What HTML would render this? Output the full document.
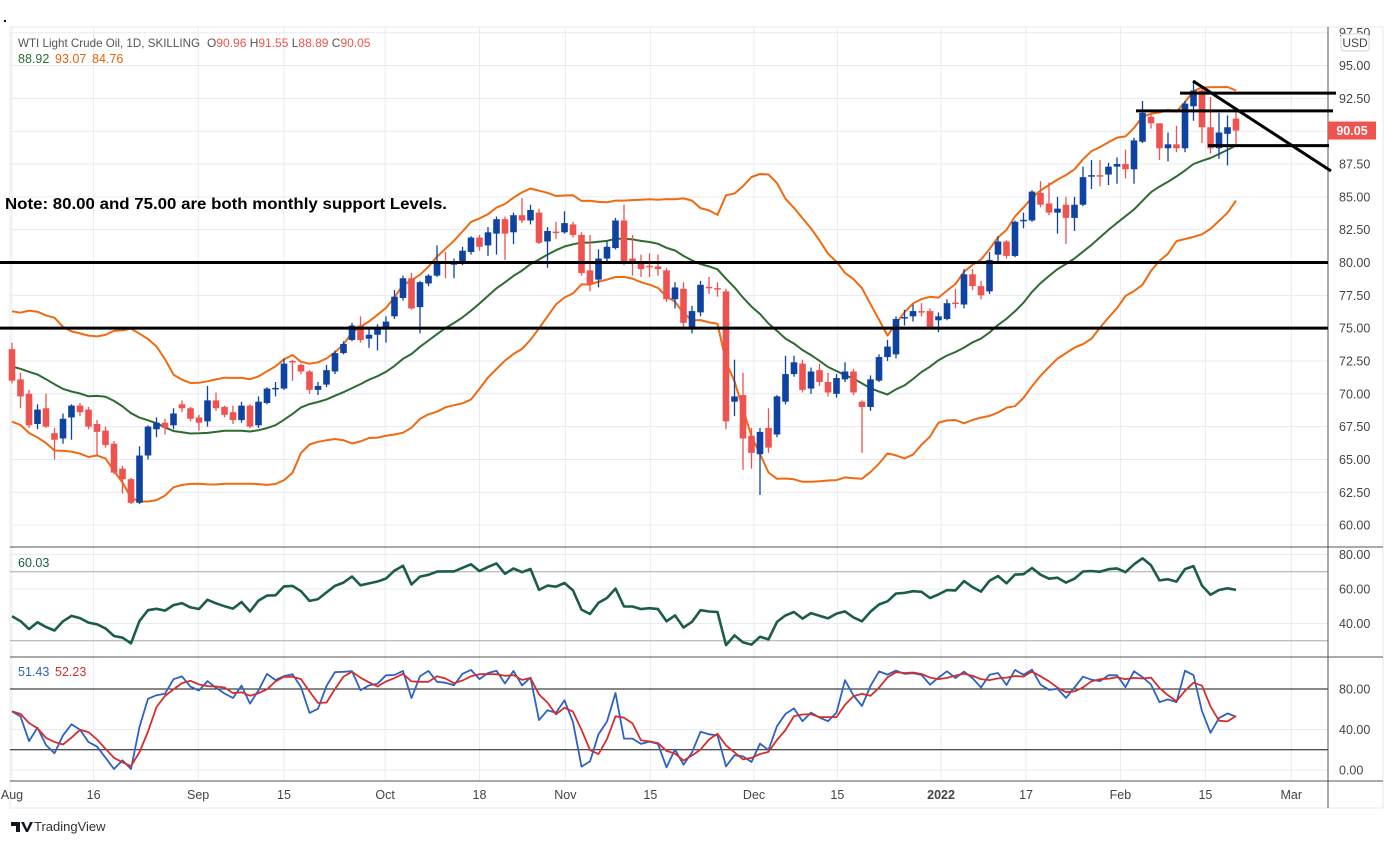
<!DOCTYPE html>
<html><head><meta charset="utf-8"><title>WTI Chart</title>
<style>
html,body{margin:0;padding:0;background:#fff;}
svg{display:block;font-family:"Liberation Sans",Arial,sans-serif;}
</style></head>
<body>
<svg id="chart" width="1393" height="844" viewBox="0 0 1393 844" xmlns="http://www.w3.org/2000/svg">
<rect x="0" y="0" width="1393" height="844" fill="#fff"/>
<text x="3" y="22" font-size="14" font-weight="bold" fill="#000">.</text>
<rect x="10" y="27" width="1373" height="781" fill="none" stroke="#e6e9ef" stroke-width="1"/>
<g id="grid"></g>
<g id="panes"></g>
<g id="bands"></g>
<g id="candles"></g>
<g id="annot"></g>
<g id="ind"></g>
<g id="axes"></g>
<g id="legend">
  <text x="18" y="47" font-size="12" fill="#555" textLength="182" lengthAdjust="spacingAndGlyphs">WTI Light Crude Oil, 1D, SKILLING</text>
  <text x="207" y="47" font-size="12" fill="#555">O<tspan fill="#ef5350">90.96</tspan>  H<tspan fill="#ef5350">91.55</tspan>  L<tspan fill="#ef5350">88.89</tspan>  C<tspan fill="#ef5350">90.05</tspan></text>
  <text x="18" y="63" font-size="12.5" fill="#2e6b30">88.92</text>
  <text x="55" y="63" font-size="12.5" fill="#e8620c">93.07</text>
  <text x="92" y="63" font-size="12.5" fill="#e8620c">84.76</text>
  <text x="18" y="567" font-size="12.5" fill="#1b5e45">60.03</text>
  <text x="18" y="676" font-size="12.5" fill="#2d62c2">51.43</text>
  <text x="55" y="676" font-size="12.5" fill="#d32f2f">52.23</text>
  <text x="5" y="209" font-size="16" font-weight="bold" fill="#000" textLength="442" lengthAdjust="spacingAndGlyphs">Note: 80.00 and 75.00 are both monthly support Levels.</text>
</g>
<g>
  <path d="M11 822 h9 v10 h-4 v-6 h-5 z M21 822 h3 l3 7 3-7 h3 l-5 10 h-2 z" fill="#131722"/>
  <text x="34" y="831" font-size="13" fill="#333">TradingView</text>
</g>
</svg>
<script>
// ---- Data ----
const julyClose=[73.37,72.20,72.94,74.56,74.10,75.25,73.13,71.65,71.81,66.42,67.42,70.30,71.91,72.07,71.91,71.65,72.39,73.62,73.95];
const julyHigh=[76.98,73.90,73.25,74.85,74.85,75.52,75.35,73.03,72.27,71.36,67.93,70.69,72.38,72.30,72.20,72.35,72.79,73.80,74.08];
const julyLow=[73.00,71.50,71.30,73.20,73.70,73.70,72.88,71.10,71.30,65.01,65.34,66.78,70.40,71.40,71.00,71.00,71.40,72.00,73.00];
const opens=[73.4,71.1,70.0,67.7,68.9,67.0,66.6,68.2,69.1,68.8,67.7,67.2,66.2,64.3,63.5,61.7,65.3,67.3,67.8,67.6,69.2,68.9,68.2,67.9,69.5,69.0,68.6,68.0,69.1,67.6,69.3,70.35,70.4,72.5,72.2,71.7,70.3,70.7,71.7,73.1,74.1,75.2,74.2,74.5,75.0,75.9,77.3,78.8,76.6,78.4,79.0,80.05,79.85,80.0,80.8,81.9,81.3,82.2,83.3,82.3,83.6,83.2,83.8,81.6,82.35,82.3,82.9,82.1,79.4,78.7,80.3,81.1,83.2,80.3,80.0,79.75,79.7,79.4,77.2,78.0,75.0,76.2,78.15,78.05,77.8,69.4,69.9,66.8,65.4,67.4,66.9,69.4,71.5,72.3,70.4,71.8,70.9,70.0,71.1,71.7,69.4,69.0,71.0,72.8,73.0,75.75,75.9,76.3,76.3,75.6,75.7,76.95,76.8,79.1,78.2,77.8,80.6,81.6,80.5,83.15,83.2,85.3,84.5,83.8,84.4,83.4,84.4,86.55,86.65,86.7,87.3,87.5,87.1,89.2,91.1,90.6,88.7,89.0,88.7,91.9,93.1,90.3,88.7,89.8,90.96];
const closes=[71.0,69.8,67.6,68.8,67.5,66.5,68.1,69.1,68.6,67.5,67.1,66.1,64.0,63.5,61.7,65.3,67.5,67.8,67.4,68.5,68.9,68.1,67.8,69.5,68.9,68.4,68.0,69.1,67.5,69.4,70.4,70.45,72.3,72.4,71.7,70.3,70.6,71.8,73.1,73.8,75.2,74.1,74.5,74.9,75.5,77.4,78.8,76.5,78.5,79.0,79.9,79.95,79.95,80.9,81.9,81.2,82.3,83.3,82.2,83.6,83.2,84.0,81.5,82.4,82.25,83.0,82.1,79.2,78.4,80.3,81.2,83.2,80.0,80.0,79.5,79.65,79.5,77.2,78.1,75.4,76.3,78.3,78.05,77.95,67.9,69.8,66.6,65.5,67.1,65.9,69.8,71.5,72.4,70.3,71.7,70.9,70.1,71.2,71.7,70.1,69.0,71.1,72.8,73.6,75.7,75.85,76.3,76.2,75.1,75.9,76.9,76.85,79.1,78.2,77.5,80.2,81.6,80.5,83.1,83.25,85.4,84.4,83.8,84.1,83.4,84.4,86.5,86.65,86.55,87.3,87.5,87.1,89.3,91.4,90.6,88.7,89.0,88.7,92.1,93.1,90.3,88.7,89.9,90.3,90.05];
const highs=[73.9,71.6,70.3,69.2,70.0,67.4,68.5,69.2,69.3,69.0,68.0,67.5,66.4,64.5,63.6,66.0,67.6,68.2,68.1,68.9,69.5,69.0,68.4,70.6,70.1,69.1,69.1,69.4,69.2,69.8,70.5,70.9,72.7,72.6,72.3,71.8,70.9,72.2,73.3,74.0,75.4,75.9,75.0,75.3,75.9,77.9,79.0,79.2,78.6,79.1,81.3,80.8,80.3,81.2,82.0,82.1,82.7,83.5,83.5,83.8,84.9,84.4,84.1,82.7,83.1,83.9,83.1,82.3,82.1,81.0,81.6,83.4,84.4,82.1,80.6,80.7,80.6,79.6,78.5,78.5,76.7,78.6,78.9,78.5,78.0,72.6,71.6,67.4,67.4,68.9,69.9,72.9,72.9,72.6,72.0,72.3,71.6,71.5,72.4,71.9,69.5,71.4,73.0,74.1,75.9,76.4,76.8,76.9,76.5,76.2,77.2,78.0,79.5,79.5,78.6,80.8,82.0,81.7,83.2,83.8,85.5,86.2,86.1,85.0,85.0,85.0,87.3,87.8,87.8,87.6,88.0,88.6,89.5,92.3,91.3,90.6,89.9,90.4,92.3,93.7,93.3,92.6,91.4,91.2,91.55];
const lows=[70.8,68.9,67.4,67.3,67.4,65.0,66.2,66.5,68.3,67.3,65.3,65.9,63.9,62.4,61.6,61.6,65.0,66.7,66.9,67.3,68.6,67.9,67.2,67.5,68.7,68.2,67.7,67.8,67.4,67.4,69.2,69.8,70.3,71.0,71.5,70.0,69.9,70.5,71.5,73.0,74.0,73.9,73.5,73.3,73.9,75.7,77.1,76.4,74.6,78.2,78.9,78.8,78.8,79.8,80.6,80.9,80.5,80.6,80.2,81.4,83.0,82.9,81.4,79.6,81.8,82.2,81.9,79.0,77.8,78.1,80.1,81.0,79.8,79.0,78.9,78.9,79.0,77.0,76.5,74.9,74.6,75.9,77.6,77.4,67.3,68.3,64.2,64.3,62.3,65.5,66.7,69.2,71.3,70.1,70.0,70.6,69.8,69.7,70.9,69.9,65.5,68.7,70.9,72.5,72.7,75.2,75.5,75.9,74.9,74.7,75.6,76.5,76.5,77.9,77.2,77.6,80.0,80.3,80.4,82.6,83.1,84.2,83.6,82.2,81.4,82.4,84.3,85.6,85.8,85.9,86.0,86.4,86.0,89.1,90.2,87.8,87.7,88.4,88.4,90.8,89.1,88.3,87.9,87.4,88.89];
const priceTicks=[97.5,95,92.5,90,87.5,85,82.5,80,77.5,75,72.5,70,67.5,65,62.5,60];
const timeLabels=['Aug','16','Sep','15','Oct','18','Nov','15','Dec','15','2022','17','Feb','15','Mar'];
const timeLabelBars=[0,9.6,21.9,32.0,43.9,55.0,65.1,75.1,87.3,97.1,109.3,119.3,130.4,140.4,150.5];
const rsiTicks=[80,60,40];
const stochTicks=[80,40,0];
const supportLevels=[80,75];

// ---- Scales ----
const NS='http://www.w3.org/2000/svg';
const xBar=i=>12+8.5*i;
const yP=p=>262.5-(p-80)*13.13;
const yR=v=>589-(v-60)*1.725;
const yS=v=>770-v*1.013;
function mk(tag,attrs,parent){const e=document.createElementNS(NS,tag);for(const k in attrs)e.setAttribute(k,attrs[k]);parent.appendChild(e);return e;}
const $=id=>document.getElementById(id);
const X0=10,X1=1328;

// ---- Grid ----
const grid=$('grid');
timeLabelBars.forEach((b,i)=>{
  const l=mk('line',{x1:xBar(b),x2:xBar(b),y1:27,y2:781,stroke:'#e6ecf3','stroke-width':1},grid);
  
  
});
priceTicks.forEach(p=>{
  const l=mk('line',{x1:X0,x2:X1,y1:yP(p),y2:yP(p),stroke:'#e6ecf3','stroke-width':1},grid);
  
  
});
rsiTicks.forEach(v=>{
  const l=mk('line',{x1:X0,x2:X1,y1:yR(v),y2:yR(v),stroke:'#e6ecf3','stroke-width':1},grid);
  
  
});
stochTicks.forEach(v=>{
  const l=mk('line',{x1:X0,x2:X1,y1:yS(v),y2:yS(v),stroke:'#e6ecf3','stroke-width':1},grid);
  
  
});
[70,30].forEach(v=>{
  const l=mk('line',{x1:X0,x2:X1,y1:yR(v),y2:yR(v),stroke:'#a8a8a8','stroke-width':1},grid);
  
  
});
[80,20].forEach(v=>{
  const l=mk('line',{x1:X0,x2:X1,y1:yS(v),y2:yS(v),stroke:'#111','stroke-width':1},grid);
  
  
});

// ---- Pane separators ----
const panes=$('panes');
[547,657,781].forEach(y=>{
  const l=mk('line',{x1:X0,x2:1383,y1:y,y2:y,stroke:'#555','stroke-width':1},panes);
  
  
});
const va=mk('line',{x1:X1,x2:X1,y1:27,y2:808,stroke:'#555','stroke-width':1},panes);



// ---- Bollinger Bands ----
const allC=julyClose.concat(closes);
const W=julyClose.length;
const mid=[],up=[],lo=[];
for(let i=0;i<closes.length;i++){
  const j=i+W;const s=Math.max(0,j-19);const win=allC.slice(s,j+1);
  const m=win.reduce((a,b)=>a+b,0)/win.length;
  const sd=Math.sqrt(win.reduce((a,b)=>a+(b-m)*(b-m),0)/win.length);
  mid.push(m);up.push(m+2*sd);lo.push(m-2*sd);
}
const bands=$('bands');
function poly(arr,ys,col,w,name,parent){
  const d=arr.map((v,i)=>(i?'L':'M')+xBar(i).toFixed(1)+' '+ys(v).toFixed(1)).join(' ');
  const p=mk('path',{d:d,fill:'none',stroke:col,'stroke-width':w,'stroke-linejoin':'round'},parent);
  
  
  return p;
}
poly(up,yP,'#ef6a10',2,'bb-upper-band',bands);
poly(lo,yP,'#ef6a10',2,'bb-lower-band',bands);
poly(mid,yP,'#2e6b30',2,'bb-basis',bands);

// ---- Candles ----
const cg=$('candles');
closes.forEach((c,i)=>{
  const o=opens[i],h=highs[i],l=lows[i];
  const bull=c>=o;const col=bull?'#0f43a1':'#ef5350';
  const x=xBar(i);
  const g=mk('g',{},cg);
  
  
  mk('line',{x1:x,x2:x,y1:yP(h),y2:yP(l),stroke:col,'stroke-width':1.3},g);
  const t=yP(Math.max(o,c)),b=yP(Math.min(o,c));
  mk('rect',{x:x-3.3,y:t,width:6.6,height:Math.max(1.5,b-t),fill:col},g);
});

// ---- Annotations ----
const an=$('annot');
supportLevels.forEach(p=>{
  const l=mk('line',{x1:0,x2:X1,y1:yP(p),y2:yP(p),stroke:'#000','stroke-width':3},an);
  
  
});
[[1180,1336,92.9],[1136,1333,91.55],[1208,1329,88.9]].forEach(s=>{
  const l=mk('line',{x1:s[0],x2:s[1],y1:yP(s[2]),y2:yP(s[2]),stroke:'#000','stroke-width':3},an);
  
  
});
const tl=mk('line',{x1:1193,y1:81,x2:1331,y2:171,stroke:'#000','stroke-width':3},an);



// ---- RSI ----
const rsi=[];
{let ag=0,al=0;const n=14;
 for(let k=1;k<allC.length;k++){
  const d=allC[k]-allC[k-1];const g=Math.max(d,0),ls=Math.max(-d,0);
  if(k<=n){ag+=g/n;al+=ls/n;} else {ag=(ag*(n-1)+g)/n;al=(al*(n-1)+ls)/n;}
  if(k>=W) rsi.push(al===0?100:100-100/(1+ag/al));
 }}
const ind=$('ind');
poly(rsi,yR,'#1b5e45',2.6,'rsi-line',ind);

// ---- Stochastic ----
const allH=julyHigh.concat(highs),allL=julyLow.concat(lows);
const kArr=[];
for(let i=0;i<closes.length;i++){
  const j=i+W;const s=j-13;
  const hh=Math.max(...allH.slice(s,j+1)),ll=Math.min(...allL.slice(s,j+1));
  kArr.push(100*(allC[j]-ll)/(hh-ll));
}
const dArr=kArr.map((v,i)=>{const w=kArr.slice(Math.max(0,i-2),i+1);return w.reduce((a,b)=>a+b,0)/w.length;});
poly(kArr,yS,'#2d62c2',1.8,'stoch-k-line',ind);
poly(dArr,yS,'#d32f2f',1.8,'stoch-d-line',ind);

// ---- Axes labels ----
const ax=$('axes');
priceTicks.forEach(p=>{
  const t=mk('text',{x:1339,y:yP(p)+4.5,'font-size':12.5,fill:'#444'},ax);
  t.textContent=p.toFixed(2);
  
  
});
rsiTicks.forEach(v=>{
  const t=mk('text',{x:1339,y:yR(v)+4.5,'font-size':12.5,fill:'#444'},ax);
  t.textContent=v.toFixed(2);
  
  
});
stochTicks.forEach(v=>{
  const t=mk('text',{x:1339,y:yS(v)+4.5,'font-size':12.5,fill:'#444'},ax);
  t.textContent=v.toFixed(2);
  
  
});
timeLabels.forEach((s,i)=>{
  const t=mk('text',{x:xBar(timeLabelBars[i]),y:799,'font-size':12.5,fill:'#444','text-anchor':'middle','font-weight':s==='2022'?'bold':'normal'},ax);
  t.textContent=s;
  
  
});
// USD badge
const ub=mk('rect',{x:1341,y:34,width:28,height:17,rx:3,fill:'#fff',stroke:'#d0d3da'},ax);


const ut=mk('text',{x:1355,y:47,'font-size':12,fill:'#444','text-anchor':'middle'},ax);
ut.textContent='USD';


// last price tag
const lastC=closes[closes.length-1];
const pr=mk('rect',{x:1328,y:yP(lastC)-9,width:48,height:18,fill:'#ef5350'},ax);


const pt=mk('text',{x:1352,y:yP(lastC)+4.5,'font-size':12.5,'font-weight':'bold',fill:'#fff','text-anchor':'middle'},ax);
pt.textContent=lastC.toFixed(2);


</script>
</body></html>
